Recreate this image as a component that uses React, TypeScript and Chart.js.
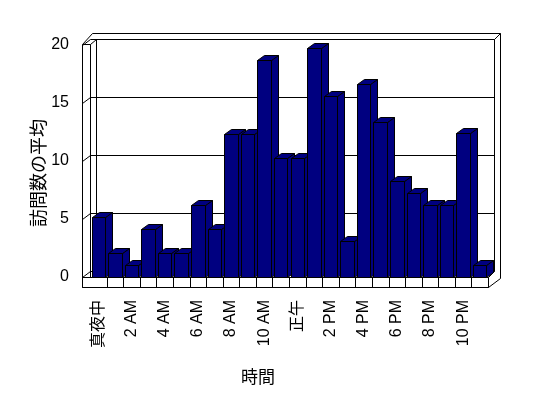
import React, { useEffect, useRef } from 'react';
import { Chart, registerables } from 'chart.js';

Chart.register(...registerables);

// ---- data ----
const hours = [
  '真夜中', '1 AM', '2 AM', '3 AM', '4 AM', '5 AM', '6 AM', '7 AM', '8 AM', '9 AM', '10 AM', '11 AM',
  '正午', '1 PM', '2 PM', '3 PM', '4 PM', '5 PM', '6 PM', '7 PM', '8 PM', '9 PM', '10 PM', '11 PM',
];
const tickLabels = [
  '真夜中', '', '2 AM', '', '4 AM', '', '6 AM', '', '8 AM', '', '10 AM', '',
  '正午', '', '2 PM', '', '4 PM', '', '6 PM', '', '8 PM', '', '10 PM', '',
];
const visits = [
  5.15, 2.04, 1.01, 4.11, 2.04, 2.04, 6.18, 4.11, 12.35, 12.35, 18.7, 10.3,
  10.3, 19.7, 15.6, 3.08, 16.6, 13.4, 8.25, 7.2, 6.18, 6.18, 12.4, 1.0,
];
const yTickValues = [0, 5, 10, 15, 20];
const yTitle = '訪問数の平均';
const xTitle = '時間';

const NAVY = '#000080';
const LINE = '#000000';

const p = (v: number) => Math.round(v) + 0.5;

const threeD = {
  id: 'threeD',
  beforeDatasetsDraw(chart: any) {
    const { ctx, chartArea: a, scales } = chart;
    const ys = scales.y;
    const L = Math.round(a.left);
    const R = Math.round(a.right);
    const T = Math.round(a.top);
    const B = Math.round(a.bottom);
    const wl = L - 8; // left wall outer
    const fb = B + 10; // floor bottom
    const dx = 6;
    const dy = -6;
    ctx.save();
    ctx.lineWidth = 1;
    ctx.strokeStyle = LINE;
    // silhouette
    ctx.beginPath();
    ctx.moveTo(p(wl), p(fb));
    ctx.lineTo(p(wl), p(T - 1));
    ctx.lineTo(p(wl + 10), p(T - 12));
    ctx.lineTo(p(R + 12), p(T - 12));
    ctx.lineTo(p(R + 12), p(fb - 9));
    ctx.lineTo(p(R), p(fb));
    ctx.closePath();
    ctx.fillStyle = '#ffffff';
    ctx.fill();
    ctx.stroke();

    ctx.beginPath();
    // back wall inner rect
    ctx.moveTo(p(L + dx), p(B + dy));
    ctx.lineTo(p(L + dx), p(T + dy));
    ctx.lineTo(p(R + dx), p(T + dy));
    ctx.lineTo(p(R + dx), p(B + dy));
    // top-right corner
    ctx.moveTo(p(R + dx), p(T + dy));
    ctx.lineTo(p(R + 12), p(T - 12));
    // left wall top
    ctx.moveTo(p(wl), p(T - 1));
    ctx.lineTo(p(L), p(T - 1));
    ctx.lineTo(p(L + dx), p(T + dy));
    // left wall inner front edge
    ctx.moveTo(p(L), p(T - 1));
    ctx.lineTo(p(L), p(B));
    // floor right side
    ctx.moveTo(p(R), p(B));
    ctx.lineTo(p(R + dx), p(B + dy));
    ctx.stroke();

    // gridlines
    ctx.beginPath();
    yTickValues.forEach((v) => {
      const yf = Math.round(ys.getPixelForValue(v));
      ctx.moveTo(p(wl), p(yf));
      ctx.lineTo(p(L), p(yf + dy));
      ctx.lineTo(p(R + dx), p(yf + dy));
    });
    ctx.stroke();

    // floor front face
    ctx.fillStyle = '#ffffff';
    ctx.fillRect(wl + 1, B + 1, R - wl - 1, fb - B - 1);
    ctx.beginPath();
    ctx.moveTo(p(wl), p(B));
    ctx.lineTo(p(R), p(B));
    ctx.lineTo(p(R), p(fb));
    ctx.lineTo(p(wl), p(fb));
    ctx.closePath();
    const xs = scales.x;
    const n = hours.length;
    for (let i = 1; i < n; i++) {
      const bx = (xs.getPixelForValue(i - 1) + xs.getPixelForValue(i)) / 2;
      ctx.moveTo(p(bx), p(B));
      ctx.lineTo(p(bx), p(fb));
    }
    ctx.stroke();
    ctx.restore();
  },
  beforeDatasetDraw(chart: any, args: any) {
    const { ctx } = chart;
    const meta = chart.getDatasetMeta(args.index);
    const bdx = 7;
    const bdy = -5;
    ctx.save();
    ctx.lineWidth = 1;
    ctx.strokeStyle = LINE;
    ctx.fillStyle = NAVY;
    meta.data.forEach((el: any) => {
      const { x, y, base, width } = el.getProps(['x', 'y', 'base', 'width'], true);
      const l = Math.round(x - width / 2);
      const r = Math.round(x + width / 2);
      const t = Math.round(y);
      const b = Math.round(base);
      // side
      ctx.beginPath();
      ctx.moveTo(r + 0.5, b + 0.5);
      ctx.lineTo(r + 0.5, t + 0.5);
      ctx.lineTo(r + bdx + 0.5, t + bdy + 0.5);
      ctx.lineTo(r + bdx + 0.5, b + bdy + 0.5);
      ctx.closePath();
      ctx.fill();
      ctx.stroke();
      // top
      ctx.beginPath();
      ctx.moveTo(l + 0.5, t + 0.5);
      ctx.lineTo(l + bdx + 0.5, t + bdy + 0.5);
      ctx.lineTo(r + bdx + 0.5, t + bdy + 0.5);
      ctx.lineTo(r + 0.5, t + 0.5);
      ctx.closePath();
      ctx.fill();
      ctx.stroke();
      // front
      ctx.beginPath();
      ctx.rect(l + 0.5, t + 0.5, r - l, b - t);
      ctx.fill();
      ctx.stroke();
    });
    ctx.restore();
    return false;
  },
  afterDraw(chart: any) {
    const { ctx } = chart;
    ctx.save();
    ctx.fillStyle = '#000';
    ctx.textAlign = 'center';
    ctx.textBaseline = 'middle';
    ctx.font = '17px "Noto Sans CJK JP"';
    ctx.fillText(xTitle, 258, 377);
    ctx.translate(38, 173);
    ctx.rotate(-Math.PI / 2);
    ctx.font = '18px "Noto Sans CJK JP"';
    ctx.fillText(yTitle, 0, 0);
    ctx.restore();
  },
};

export default function App() {
  const ref = useRef<HTMLCanvasElement>(null);
  useEffect(() => {
    const chart = new Chart(ref.current as HTMLCanvasElement, {
      type: 'bar',
      data: {
        labels: hours,
        datasets: [
          {
            data: visits,
            backgroundColor: NAVY,
            borderColor: LINE,
            borderWidth: 1,
            barPercentage: 0.81,
            categoryPercentage: 1,
          },
        ],
      },
      options: {
        responsive: false,
        devicePixelRatio: 1,
        animation: false,
        layout: { padding: { left: 0, top: 45, right: 60, bottom: 0 } },
        plugins: { legend: { display: false }, tooltip: { enabled: false } },
        scales: {
          x: {
            grid: { display: false, drawTicks: false },
            border: { display: false },
            ticks: {
              autoSkip: false,
              minRotation: 90,
              maxRotation: 90,
              padding: 23,
              color: '#000',
              font: { family: '"Liberation Sans", "Noto Sans CJK JP"', size: 16 },
              callback: (_v: any, i: number) => tickLabels[i],
            },
            afterFit: (s: any) => {
              s.height = 121;
            },
          },
          y: {
            min: 0,
            max: 20,
            grid: { display: false, drawTicks: false },
            border: { display: false },
            ticks: {
              stepSize: 5,
              padding: 21,
              color: '#000',
              font: { family: '"Liberation Sans"', size: 16 },
            },
            afterFit: (s: any) => {
              s.width = 90;
            },
          },
        },
      },
      plugins: [threeD],
    });
    return () => chart.destroy();
  }, []);
  return (
    <div style={{ position: 'absolute', left: 0, top: 0, width: 548, height: 398, background: '#fff' }}>
      <canvas ref={ref} width={548} height={398} style={{ display: 'block', width: 548, height: 398 }} />
    </div>
  );
}
